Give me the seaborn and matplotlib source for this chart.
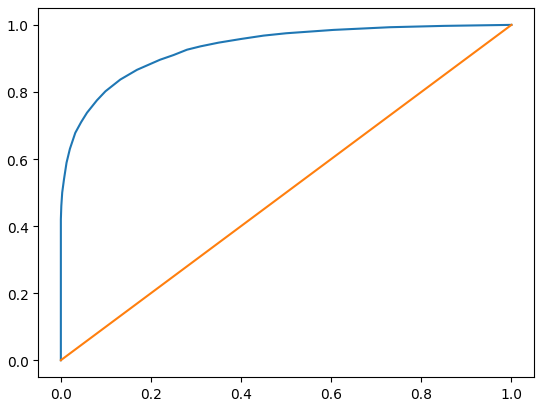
import pandas as pd
import matplotlib
matplotlib.use("Agg")
import matplotlib.pyplot as plt
import seaborn as sns

# ROC curve points
fpr = [0, 0, 0.001, 0.003, 0.007, 0.0126, 0.02, 0.032, 0.045, 0.058, 0.08, 0.099,
       0.132, 0.169, 0.22, 0.25, 0.28, 0.31, 0.35, 0.4, 0.45, 0.5, 0.605, 0.73, 0.85, 1.0]
tpr = [0, 0.42, 0.46, 0.50, 0.54, 0.589, 0.63, 0.678, 0.71, 0.738, 0.775, 0.802,
       0.837, 0.866, 0.896, 0.910, 0.926, 0.936, 0.947, 0.958, 0.968, 0.975, 0.985, 0.993, 0.997, 1.0]

# chance diagonal
diag_x = [0, 1]
diag_y = [0, 1]

roc = pd.DataFrame({"fpr": fpr, "tpr": tpr})
diag = pd.DataFrame({"x": diag_x, "y": diag_y})

fig = plt.figure(figsize=(5.46, 4.14), dpi=100)
ax = fig.add_axes([0.0702, 0.087, 0.9078, 0.891])
sns.lineplot(data=roc, x="fpr", y="tpr", sort=False, estimator=None, color="C0", ax=ax)
sns.lineplot(data=diag, x="x", y="y", sort=False, estimator=None, color="C1", ax=ax)
ax.set_xlabel("")
ax.set_ylabel("")
fig.savefig("out.png", dpi=100)
